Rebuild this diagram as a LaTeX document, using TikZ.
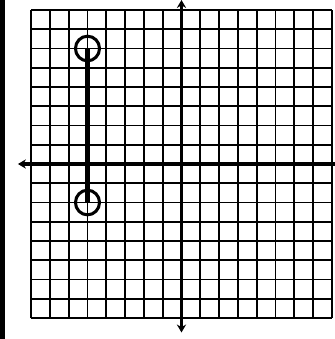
\documentclass[tikz,border=0pt]{standalone}
\usepackage{tikz}
\usetikzlibrary{arrows.meta}
\tikzset{
  gridline/.style={draw=black, line width=1.4pt},
  axis/.style={draw=black, line width=2.8pt},
  tick/.style={draw=black, line width=1.2pt},
  seg/.style={draw=black, line width=3.4pt},
  ring/.style={draw=black, line width=2.3pt},
  edgebar/.style={fill=black}
}

\begin{document}
\begin{tikzpicture}[x=0.5cm, y=0.512cm]
  \useasboundingbox (-9.654,-9.09) rectangle (8.165,8.52);
  \fill[edgebar] (-9.654,-9.09) rectangle (-9.39,8.52);

  % grid
  \foreach \i in {-8,...,8} {
    \draw[gridline] (\i,-8) -- (\i,8);
    \draw[gridline] (-8,\i) -- (8,\i);
  }

  % axes
  \coordinate (xl) at (-8.7,0);
  \coordinate (xr) at (8.165,0);
  \coordinate (yt) at (0,8.52);
  \coordinate (yb) at (0,-8.75);
  \draw[axis, -{Stealth[length=6pt,width=7pt]}] (xr) -- (xl);
  \draw[axis, {Stealth[length=6pt,width=7pt]}-{Stealth[length=6pt,width=7pt]}] (yb) -- (yt);
  \foreach \i in {-8,...,8} {
    \draw[tick] (\i,-0.18) -- (\i,0.18);
    \draw[tick] (-0.18,\i) -- (0.18,\i);
  }

  % segment with open end points
  \coordinate (A) at (-5,6);
  \coordinate (B) at (-5,-2);
  \draw[seg] (A) -- (B);
  \draw[ring] (A) circle (0.64);
  \draw[ring] (B) circle (0.64);
\end{tikzpicture}
\end{document}
